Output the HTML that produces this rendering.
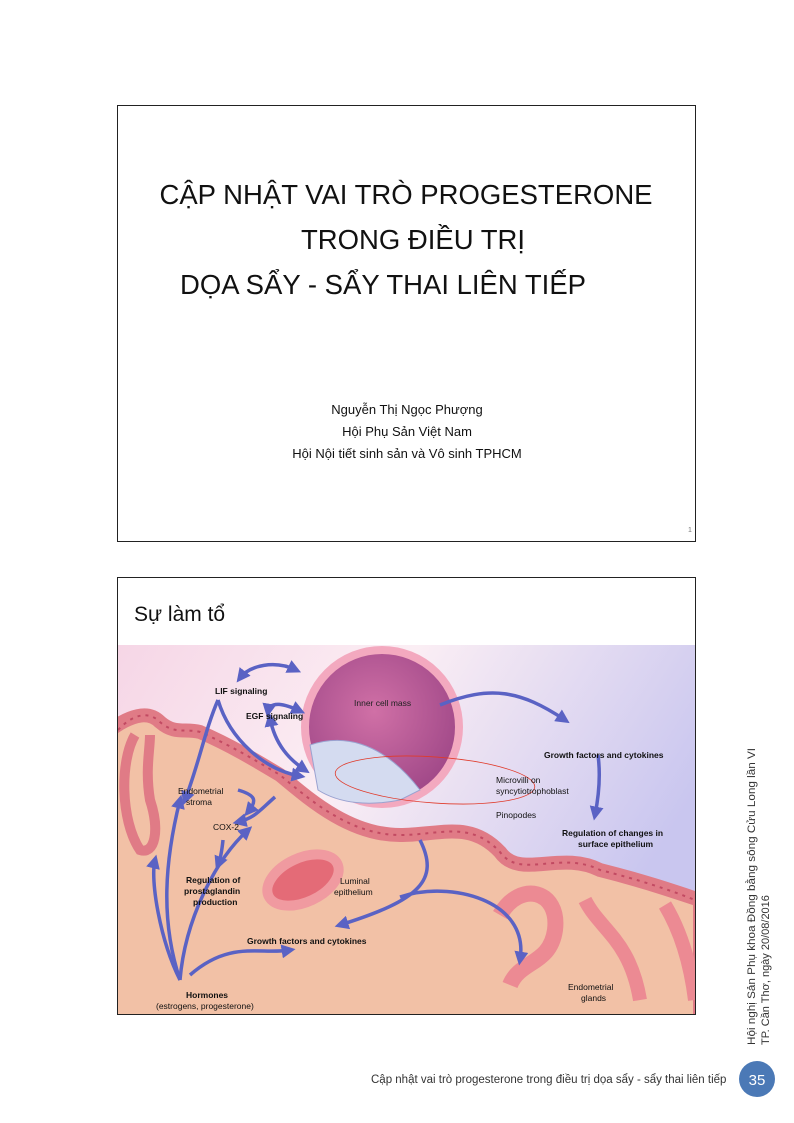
<!DOCTYPE html>
<html><head><meta charset="utf-8"><style>
html,body{margin:0;padding:0;background:#fff}
svg{display:block}
text{font-family:"Liberation Sans","DejaVu Sans",sans-serif}
</style></head><body>
<svg width="794" height="1123" viewBox="0 0 794 1123" xmlns="http://www.w3.org/2000/svg">
<defs>
<linearGradient id="bg" x1="0" y1="0" x2="1" y2="0.4">
<stop offset="0" stop-color="#f6d6e6"/><stop offset="0.45" stop-color="#fbeef4"/><stop offset="1" stop-color="#c9c6ef"/>
</linearGradient>
<radialGradient id="bl" cx="0.45" cy="0.4" r="0.6">
<stop offset="0" stop-color="#d070a6"/><stop offset="1" stop-color="#a04888"/>
</radialGradient>
<clipPath id="cp"><rect x="118" y="645" width="577" height="369"/></clipPath>
<marker id="ah" viewBox="0 0 10 10" refX="6" refY="5" markerWidth="4" markerHeight="4" orient="auto-start-reverse"><path d="M0 0L10 5L0 10z" fill="#5a62c4"/></marker>
</defs>
<rect x="117.5" y="105.5" width="578" height="436" fill="#fff" stroke="#222" stroke-width="1"/>
<text x="406" y="204" font-size="27.5" text-anchor="middle" fill="#111">CẬP NHẬT VAI TRÒ PROGESTERONE</text>
<text x="413" y="249" font-size="27.5" text-anchor="middle" fill="#111">TRONG ĐIỀU TRỊ</text>
<text x="383" y="294" font-size="27.5" text-anchor="middle" fill="#111">DỌA SẨY - SẨY THAI LIÊN TIẾP</text>
<text x="407" y="414" font-size="13" text-anchor="middle" fill="#111">Nguyễn Thị Ngọc Phượng</text>
<text x="407" y="436" font-size="13" text-anchor="middle" fill="#111">Hội Phụ Sản Việt Nam</text>
<text x="407" y="458" font-size="13" text-anchor="middle" fill="#111">Hội Nội tiết sinh sản và Vô sinh TPHCM</text>
<text x="688" y="532" font-size="7" fill="#777">1</text>
<rect x="117.5" y="577.5" width="578" height="437" fill="#fff" stroke="#222" stroke-width="1"/>
<text x="134" y="621" font-size="21" fill="#111">Sự làm tổ</text>
<g clip-path="url(#cp)">
<rect x="118" y="645" width="577" height="369" fill="url(#bg)"/>
<path d="M110 730 C135 712 150 712 160 722 C175 735 185 728 200 732 C230 745 255 760 280 775 C310 800 350 835 400 835 C440 835 470 820 500 852 C520 880 560 850 600 870 C640 880 670 890 700 900 L700 1030 L110 1030Z" fill="#f2c1a6" stroke="#e07b86" stroke-width="14"/>
<path d="M118 730 C135 712 150 712 160 722 C175 735 185 728 200 732 C230 745 255 760 280 775 C310 800 350 835 400 835 C440 835 470 820 500 852 C520 880 560 850 600 870 C640 880 670 890 695 900" fill="none" stroke="#c24a62" stroke-width="2" stroke-dasharray="3 5"/>
<path d="M135 735 C120 760 120 820 140 850 C155 855 160 830 150 800 C145 770 150 750 150 735" fill="#f2c1a6" stroke="#e07b86" stroke-width="10"/>
<ellipse cx="303" cy="880" rx="38" ry="22" transform="rotate(-25 303 880)" fill="#e46b77" stroke="#f09aa0" stroke-width="10"/>
<path d="M500 915 C520 880 560 890 555 930 C550 965 520 960 510 985" fill="none" stroke="#ec8a93" stroke-width="16"/>
<path d="M585 900 C600 930 630 940 640 1000" fill="none" stroke="#ec8a93" stroke-width="14"/>
<path d="M665 905 C680 930 690 960 695 1000" fill="none" stroke="#ec8a93" stroke-width="14"/>
<circle cx="382" cy="727" r="77" fill="url(#bl)" stroke="#f3a9bf" stroke-width="8"/>
<path d="M310 745 C340 735 380 738 420 790 L400 800 C370 806 340 804 318 790 Z" fill="#d4dbf0" stroke="#9aa2d0" stroke-width="1"/>
<ellipse cx="435" cy="780" rx="100" ry="23" fill="none" stroke="#e03a2a" stroke-width="0.8" transform="rotate(4 435 780)"/>
</g>
<g fill="none" stroke="#5a62c4" stroke-width="3.5" marker-end="url(#ah)">
<path d="M296 670 C275 660 250 665 240 678" marker-start="url(#ah)"/>
<path d="M300 711 C285 704 270 700 268 712" marker-start="url(#ah)"/>
<path d="M218 700 C205 730 200 760 185 800"/>
<path d="M218 700 C230 740 265 770 300 776"/>
<path d="M270 718 C275 745 290 760 305 770" marker-start="url(#ah)"/>
<path d="M440 705 C490 685 520 690 565 720"/>
<path d="M598 755 C600 770 600 790 595 815"/>
<path d="M238 790 C255 795 258 800 248 812"/>
<path d="M275 797 C260 810 255 818 238 822"/>
<path d="M223 840 C222 850 220 860 218 865"/>
<path d="M180 980 C160 920 165 860 180 800"/>
<path d="M180 980 C185 920 215 860 248 830"/>
<path d="M180 980 C160 940 150 880 155 860"/>
<path d="M190 975 C230 940 260 955 290 950"/>
<path d="M420 840 C440 880 420 900 340 925"/>
<path d="M400 897 C450 880 530 900 520 960"/>
</g>
<g font-size="8.5" fill="#111">
<text x="215" y="694" font-weight="bold">LIF signaling</text>
<text x="246" y="719" font-weight="bold">EGF signaling</text>
<text x="354" y="706" fill="#222">Inner cell mass</text>
<text x="544" y="758" font-weight="bold">Growth factors and cytokines</text>
<text x="496" y="783">Microvilli on</text>
<text x="496" y="794">syncytiotrophoblast</text>
<text x="496" y="818">Pinopodes</text>
<text x="562" y="836" font-weight="bold">Regulation of changes in</text>
<text x="578" y="847" font-weight="bold">surface epithelium</text>
<text x="178" y="794">Endometrial</text>
<text x="186" y="805">stroma</text>
<text x="213" y="830">COX-2</text>
<text x="186" y="883" font-weight="bold">Regulation of</text>
<text x="184" y="894" font-weight="bold">prostaglandin</text>
<text x="193" y="905" font-weight="bold">production</text>
<text x="340" y="884">Luminal</text>
<text x="334" y="895">epithelium</text>
<text x="247" y="944" font-weight="bold">Growth factors and cytokines</text>
<text x="568" y="990">Endometrial</text>
<text x="581" y="1001">glands</text>
<text x="186" y="998" font-weight="bold">Hormones</text>
<text x="156" y="1009">(estrogens, progesterone)</text>
</g>
<g font-size="11" fill="#333">
<text transform="translate(755 1045) rotate(-90)" textLength="297" lengthAdjust="spacingAndGlyphs">Hội nghị Sản Phụ khoa Đồng bằng sông Cửu Long lần VI</text>
<text transform="translate(769 1045) rotate(-90)">TP. Cần Thơ, ngày 20/08/2016</text>
</g>
<text x="371" y="1083" font-size="11.5" fill="#333">Cập nhật vai trò progesterone trong điều trị dọa sẩy - sẩy thai liên tiếp</text>
<circle cx="757" cy="1079" r="18" fill="#4b79b6"/>
<text x="757" y="1085" font-size="15" fill="#fff" text-anchor="middle">35</text>
</svg>
</body></html>
